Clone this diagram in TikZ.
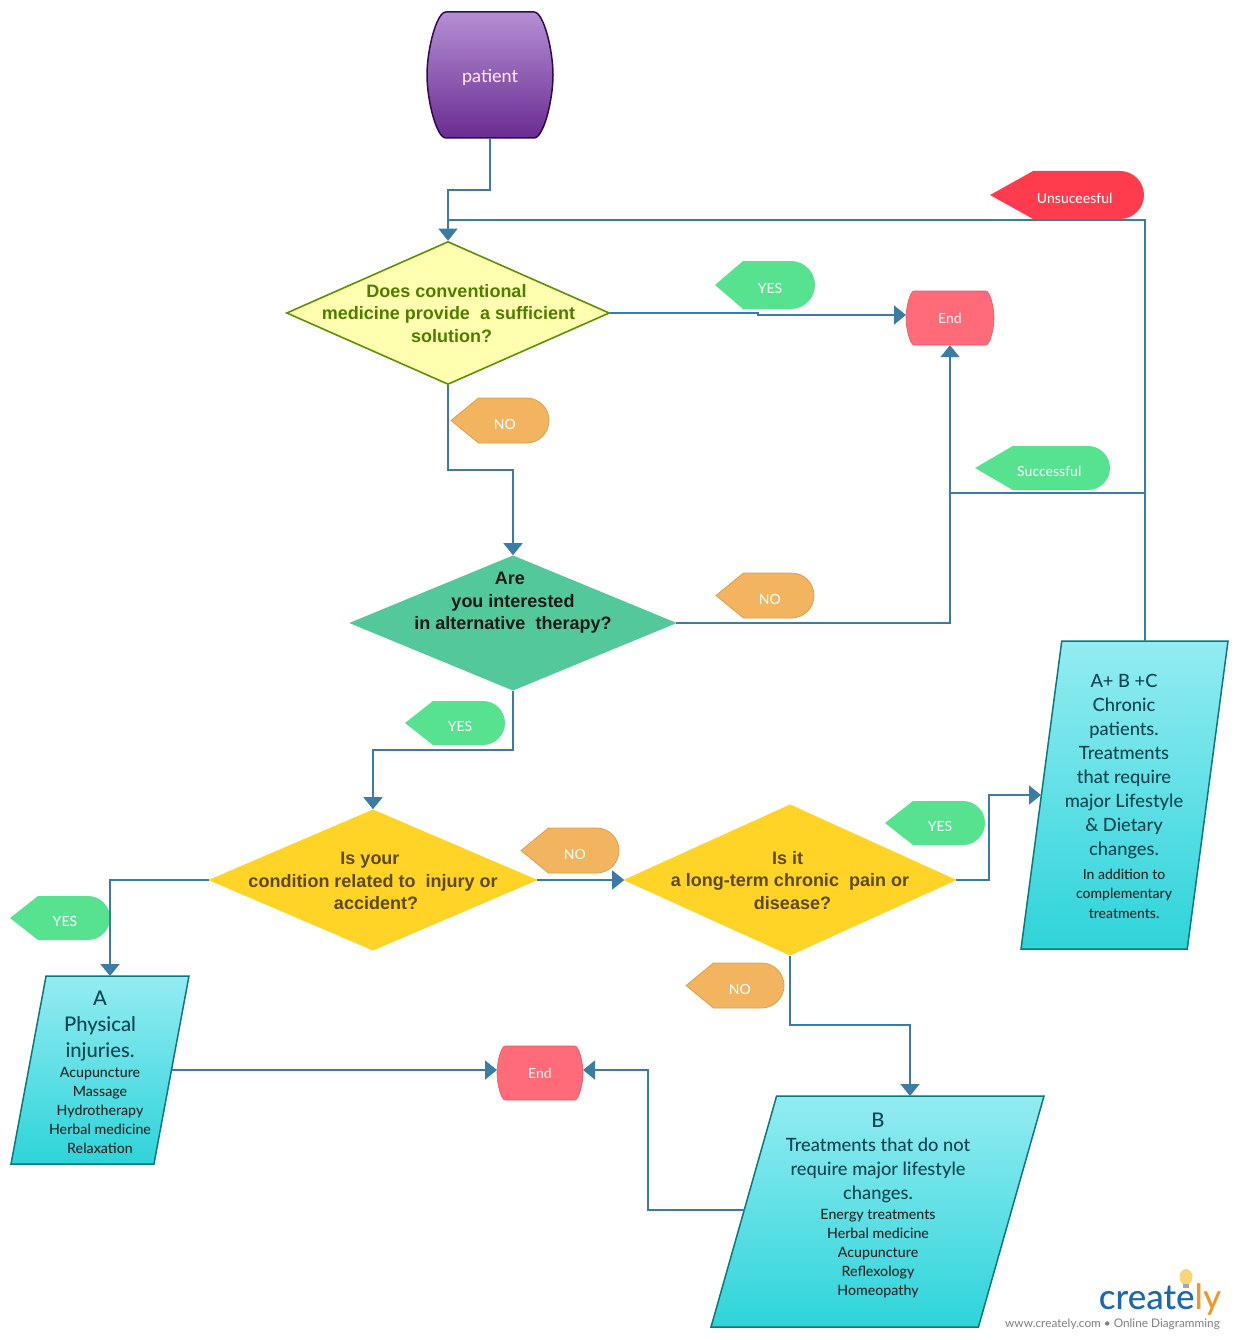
\documentclass[tikz,border=0pt]{standalone}
\usepackage{fontspec}
\usepackage{xcolor}
\usepackage{tikz}
\usetikzlibrary{shapes,arrows.meta,positioning,calc}
\setmainfont{Lato}
\newfontfamily\midfont{Lato Medium}
\newfontfamily\askfont{Liberation Sans}
\definecolor{wire}{HTML}{3A7CA5}
\definecolor{leaf}{HTML}{57E28F}
\definecolor{amber}{HTML}{F2B45F}
\definecolor{amberline}{HTML}{D9A050}
\definecolor{alarm}{HTML}{FF3B4E}
\definecolor{stop}{HTML}{FF6B78}
\definecolor{stopline}{HTML}{EE5364}
\definecolor{tealtop}{HTML}{93ECF2}
\definecolor{tealbot}{HTML}{2DD4D9}
\definecolor{tealline}{HTML}{0E7777}
\definecolor{tealtext}{HTML}{0F4552}
\definecolor{plumtop}{HTML}{B48FD3}
\definecolor{plumbot}{HTML}{6A2C91}
\definecolor{plumline}{HTML}{2E0B4F}
\definecolor{lemon}{HTML}{FFFFB0}
\definecolor{olive}{HTML}{5C9100}
\definecolor{olivetext}{HTML}{4F7D00}
\definecolor{mint}{HTML}{52C89B}
\definecolor{gold}{HTML}{FFD426}
\definecolor{goldtext}{HTML}{5C4A10}
\definecolor{logoblue}{HTML}{1A68AD}
\definecolor{logoorange}{HTML}{F0962A}
\definecolor{logobulb}{HTML}{F7D774}
\newcommand{\tagbox}[7]{%
  \path[#6] (#2,{(#3+#5)/2}) -- ({#2+0.28*(#4-#2)},#3) -- ({#4-(#5-#3)/2},#3)
    arc[start angle=90,end angle=-90,radius={(#5-#3)/2*1pt}]
    -- ({#2+0.28*(#4-#2)},#5) -- cycle;
  \node[tagtext] (#1) at ({(#2+#4)/2+0.05*(#4-#2)},{(#3+#5)/2+3.5}) {#7};
}
\newcommand{\barrelbox}[7]{%
  \path[#6] ({#2-#4+0.3*#5},#3-#5) -- ({#2+#4-0.3*#5},#3-#5)
    .. controls ({#2+#4-0.15*#5},#3-#5) and ({#2+#4},{#3-0.4*#5}) .. ({#2+#4},#3)
    .. controls ({#2+#4},{#3+0.4*#5}) and ({#2+#4-0.15*#5},#3+#5) .. ({#2+#4-0.3*#5},#3+#5)
    -- ({#2-#4+0.3*#5},#3+#5)
    .. controls ({#2-#4+0.15*#5},#3+#5) and ({#2-#4},{#3+0.4*#5}) .. ({#2-#4},#3)
    .. controls ({#2-#4},{#3-0.4*#5}) and ({#2-#4+0.15*#5},#3-#5) .. ({#2-#4+0.3*#5},#3-#5) -- cycle;
  \node[barreltext, minimum width={2*#4*1pt}, minimum height={2*#5*1pt}] (#1) at (#2,#3) {#7};
}
\begin{document}
\begin{tikzpicture}[
    x=1pt, y=-1pt,
    ask/.style={diamond, aspect=2.3, line width=1.6pt, inner sep=0pt},
    asktext/.style={align=center, inner sep=0pt, text depth=0pt,
                    font=\askfont\bfseries\fontsize{18}{22.5}\selectfont},
    barreltext/.style={inner sep=0pt, text=white!88!stop,
                    font=\midfont\fontsize{14}{17}\selectfont},
    stopbox/.style={fill=stop, draw=stopline, line width=0.6pt},
    plumbox/.style={top color=plumtop, bottom color=plumbot,
                    draw=plumline, line width=1.5pt},
    slab/.style={trapezium, trapezium left angle=72, trapezium right angle=108,
                 trapezium stretches=true, draw=tealline,
                 line width=1.5pt, top color=tealtop, bottom color=tealbot,
                 inner sep=1pt},
    headtext/.style={align=center, inner sep=0pt, text=tealtext},
    listtext/.style={align=center, inner sep=0pt, text=black!85,
                     font=\midfont\fontsize{14.2}{19}\selectfont},
    tagtext/.style={inner sep=0pt, text=white!90!leaf,
                    font=\midfont\fontsize{14}{17}\selectfont},
    greentag/.style={fill=leaf},
    ambertag/.style={fill=amber, draw=amberline, line width=0.8pt},
    redtag/.style={fill=alarm},
    arrow/.style={-{Triangle[width=19pt,length=12pt]}, color=wire, line width=1.8pt},
    wireline/.style={color=wire, line width=1.8pt},
]
\useasboundingbox (0,0) rectangle (1234,1340);

\barrelbox{patient}{490}{75}{63}{63}{plumbox}{\fontsize{18}{22}\fontseries{m}\rmfamily\selectfont\raisebox{-2pt}[\height][\depth]{patient}}

\node[ask, minimum width=323pt, minimum height=143pt, fill=lemon,
      draw=olive] (conventional) at (448,313) {};
\node[asktext, text=olivetext] (conventionaltext) at (448.5,313)
  {Does conventional\hspace*{4pt}\\medicine provide~~a sufficient\\\hspace*{6pt}solution?};

\node[ask, minimum width=324pt, minimum height=134pt, fill=mint,
      draw=mint] (alternative) at (513,623) {};
\node[asktext, text=black!90] (alternativetext) at (513,601)
  {Are\hspace*{6pt}\\you interested\hspace*{6pt}\\in alternative~~therapy?};

\node[ask, minimum width=326pt, minimum height=140pt, fill=gold,
      draw=gold] (injury) at (373,880) {};
\node[asktext, text=goldtext] (injurytext) at (373,881)
  {Is your\hspace*{6pt}\\condition related to~~injury or\\\hspace*{6pt}accident?};

\node[ask, minimum width=330pt, minimum height=150pt, fill=gold,
      draw=gold] (chronic) at (790,880) {};
\node[asktext, text=goldtext] (chronictext) at (790,880)
  {Is it\hspace*{5pt}\\a long-term chronic~~pain or\\\hspace*{5pt}disease?};

\barrelbox{endtop}{950}{318}{44}{27}{stopbox}{End}
\barrelbox{endbottom}{540}{1073}{43}{27}{stopbox}{End}

\node[slab, minimum width=178pt, minimum height=188pt] (physical) at (100,1070) {};
\node[headtext, font=\midfont\fontsize{20.2}{26}\selectfont] (physicalhead) at (100,1026)
  {A\\Physical\\injuries.};
\node[listtext, below=6pt of physicalhead] (physicallist)
  {Acupuncture\\Massage\\Hydrotherapy\\Herbal medicine\\Relaxation};

\node[slab, minimum width=333pt, minimum height=231pt] (lifestyle) at (877.5,1211.5) {};
\node[headtext, font=\midfont\fontsize{18.3}{24}\selectfont] (lifestylehead) at (878,1158)
  {{\fontsize{20.2}{24}\selectfont B}\\Treatments that do not\\require major lifestyle\\changes.};
\node[listtext, below=6pt of lifestylehead] (lifestylelist)
  {Energy treatments\\Herbal medicine\\Acupuncture\\Reflexology\\Homeopathy};

\node[slab, minimum width=207pt, minimum height=308pt] (combined) at (1124.5,795) {};
\node[headtext, font=\midfont\fontsize{18.3}{24}\selectfont] (combinedhead) at (1124,767)
  {A+ B +C\\Chronic\\patients.\\Treatments\\that require\\major Lifestyle\\\& Dietary\\changes.};
\node[listtext, below=9pt of combinedhead, font=\midfont\fontsize{14}{19.5}\selectfont] (combinedlist)
  {In addition to\\complementary\\treatments.};

\tagbox{unsuccessful}{990}{171}{1144}{219}{redtag}{Unsuceesful}
\tagbox{yestop}{715}{261}{815}{309}{greentag}{YES}
\tagbox{noconventional}{451}{398}{549}{443}{ambertag}{NO}
\tagbox{successful}{975}{446}{1110}{490}{greentag}{Successful}
\tagbox{noalternative}{716}{573}{814}{618}{ambertag}{NO}
\tagbox{yesalternative}{405}{701}{505}{745}{greentag}{YES}
\tagbox{noinjury}{521}{828}{619}{873}{ambertag}{NO}
\tagbox{yeschronic}{885}{801}{985}{845}{greentag}{YES}
\tagbox{yesinjury}{10}{896}{110}{940}{greentag}{YES}
\tagbox{nochronic}{686}{963}{784}{1008}{ambertag}{NO}

\coordinate (retry) at (448,220);
\coordinate (combinedout) at (1145,641);
\coordinate (combinedin) at (1041,795);
\coordinate (endtopin) at (906,315);
\coordinate (success) at (950,493);
\coordinate (physicalin) at (110,976);
\coordinate (physicalout) at (172,1070);
\coordinate (endbottomin) at (497,1070);
\coordinate (endbottomback) at (583,1070);
\coordinate (lifestylein) at (910,1096);
\coordinate (lifestyleout) at (745,1210);

\draw[arrow] (patient.south) -- ++(0,52) -| (conventional.north);
\draw[wireline] (combinedout) |- (retry);
\draw[arrow] (conventional.east) -- ++(148,0) |- (endtopin);
\draw[arrow] (conventional.south) -- ++(0,85) -| (alternative.north);
\draw[arrow] (alternative.east) -| (endtop.south);
\draw[wireline] (combinedout |- success) -- (success);
\draw[arrow] (alternative.south) -- ++(0,59) -| (injury.north);
\draw[arrow] (injury.west) -| (physicalin);
\draw[arrow] (injury.east) -- (chronic.west);
\draw[arrow] (chronic.east) -- ++(33,0) |- (combinedin);
\draw[arrow] (chronic.south) -- ++(0,69) -| (lifestylein);
\draw[arrow] (physicalout) -- (endbottomin);
\draw[arrow] (lifestyleout) -| (648,1070) -- (endbottomback);

\fill[logobulb] (1186,1277) ellipse [x radius=6.5pt, y radius=8pt];
\fill[black!35] (1183,1284) rectangle (1189,1288);
\node[inner sep=0pt, font=\midfont\fontsize{35}{40}\selectfont, text=logoblue] (creately) at (1160,1300)
  {create\textcolor{logoorange}{ly}};
\node[inner sep=0pt, text=black!50, font=\fontsize{11.8}{14}\selectfont] (createlyline) at (1112.5,1324)
  {www.creately.com • Online Diagramming};
\end{tikzpicture}
\end{document}
